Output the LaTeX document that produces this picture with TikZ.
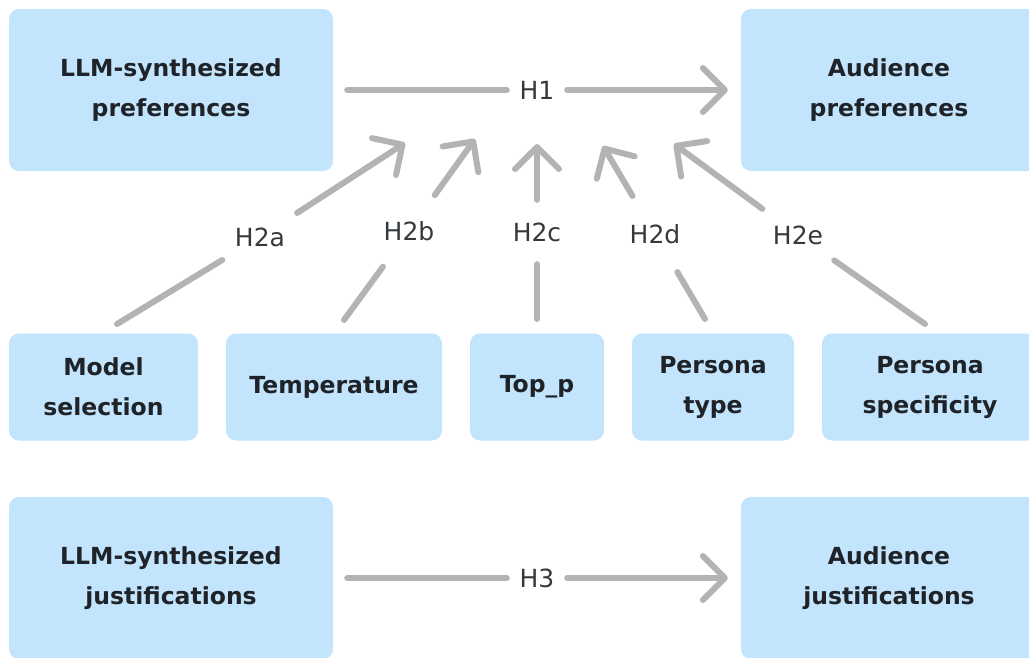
\documentclass[tikz,border=0pt]{standalone}
\usepackage{fontspec}
\setmainfont{DejaVu Sans}
\usetikzlibrary{arrows.meta}

\definecolor{boxblue}{HTML}{C2E4FC}
\definecolor{linkgray}{HTML}{B3B3B3}
\definecolor{inkdark}{HTML}{1F2328}

\tikzset{
  box/.style={fill=boxblue, rounded corners=10pt, align=center, text=inkdark,
    font=\fontsize{23.5}{40}\selectfont\bfseries, inner sep=0pt},
  hyp/.style={circle, inner sep=0pt, minimum size=60pt, text=inkdark!90,
    font=\fontsize{25}{30}\selectfont},
  hypdiag/.style={hyp, minimum size=88pt},
  link/.style={draw=linkgray, line width=6pt, line cap=round, line join=round},
}

\begin{document}
\begin{tikzpicture}[x=1pt,y=-1pt,>={Straight Barb[length=22pt,width=44pt,round]}]

    \useasboundingbox (0,0) rectangle (1029,657);

    % top row
    \node[box, minimum width=324pt, minimum height=162pt] (lp) at (171,90)
      {LLM-synthesized\\preferences};
    \node[box, minimum width=296pt, minimum height=162pt] (ap) at (889,90)
      {Audience\\preferences};

    \node[hyp] (h1) at (537,90) {H1};
    \draw[link, shorten <=14pt] (lp) -- (h1);
    \draw[link, ->, shorten >=13pt] (h1) -- (ap);

    % factors
    \node[box, minimum width=189pt, minimum height=107pt] (ms) at (103.5,387)
      {Model\\selection};
    \node[box, minimum width=216pt, minimum height=107pt] (tp) at (334,387)
      {Temperature};
    \node[box, minimum width=134pt, minimum height=107pt] (topp) at (537,387)
      {Top\_p};
    \node[box, minimum width=162pt, minimum height=107pt] (pt) at (713,387)
      {Persona\\type};
    \node[box, minimum width=216pt, minimum height=107pt] (ps) at (930,387)
      {Persona\\specificity};

    \coordinate (s1) at (117,324);
    \coordinate (s2) at (344,320);
    \coordinate (s3) at (537,319);
    \coordinate (s4) at (705,319);
    \coordinate (s5) at (925,324);

    \coordinate (t1) at (405,143);
    \coordinate (t2) at (475,139);
    \coordinate (t3) at (537,144);
    \coordinate (t4) at (603,146);
    \coordinate (t5) at (674,144);

    \node[hypdiag] (h2a) at (260,237) {H2a};
    \node[hypdiag] (h2b) at (409,231) {H2b};
    \node[hyp, minimum size=64pt] (h2c) at (537,232) {H2c};
    \node[hypdiag] (h2d) at (655,234) {H2d};
    \node[hypdiag] (h2e) at (798,235) {H2e};

    \foreach \s/\h/\t in {s1/h2a/t1, s2/h2b/t2, s3/h2c/t3, s4/h2d/t4, s5/h2e/t5} {
      \draw[link] (\s) -- (\h);
      \draw[link, ->] (\h) -- (\t);
    }

    % justifications
    \node[box, minimum width=324pt, minimum height=162pt] (lj) at (171,578)
      {LLM-synthesized\\justifications};
    \node[box, minimum width=296pt, minimum height=162pt] (aj) at (889,578)
      {Audience\\justifications};

    \node[hyp] (h3) at (537,578) {H3};
    \draw[link, shorten <=14pt] (lj) -- (h3);
    \draw[link, ->, shorten >=13pt] (h3) -- (aj);

\end{tikzpicture}
\end{document}
